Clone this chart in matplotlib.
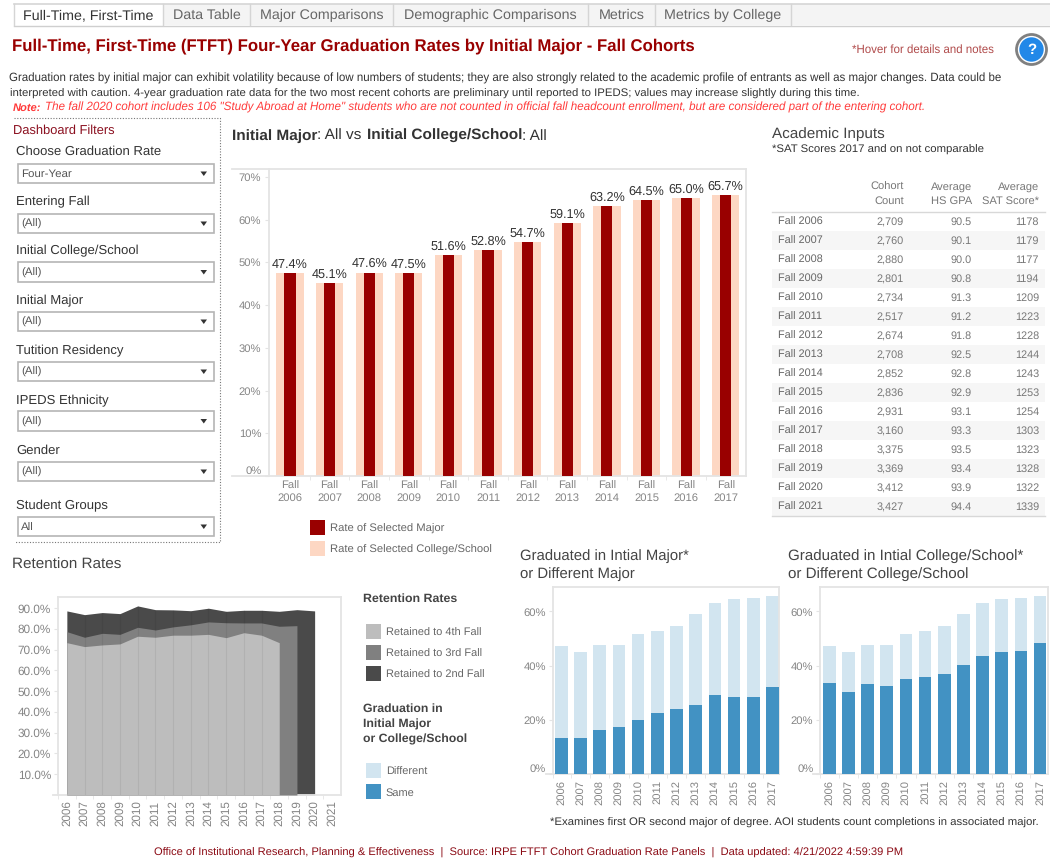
import matplotlib
matplotlib.use("Agg")
import matplotlib.pyplot as plt
from matplotlib.patches import Rectangle, Circle, Polygon

plt.rcParams['font.family'] = ['Liberation Sans', 'DejaVu Sans']
plt.rcParams['text.hinting'] = 'no_hinting'
plt.rcParams['text.hinting_factor'] = 8

W, H = 1050, 868
PX = 0.72

# ---------- data ----------
cohorts = ['2006','2007','2008','2009','2010','2011','2012','2013','2014','2015','2016','2017']
major_rate = [47.4,45.1,47.6,47.5,51.6,52.8,54.7,59.1,63.2,64.5,65.0,65.7]
college_rate = [47.4,45.1,47.6,47.5,51.6,52.8,54.7,59.1,63.2,64.5,65.0,65.7]
same_major = [13.4,13.4,16.1,17.2,19.9,22.6,23.9,25.5,29.2,28.5,28.5,32.0]
same_college = [33.5,30.4,33.1,32.6,34.9,35.8,36.9,40.3,43.4,45.0,45.5,48.2]

ret_years = [2006,2007,2008,2009,2010,2011,2012,2013,2014,2015,2016,2017,2018,2019,2020,2021]
ret_2nd = [88.7,86.9,87.9,87.4,91.1,89.3,89.2,88.8,90.0,88.5,89.0,89.0,88.5,89.3,88.7]
ret_3rd = [78.7,76.0,77.9,77.4,80.8,79.5,81.0,82.0,83.4,83.0,82.9,82.9,81.3,81.6]
ret_4th = [73.4,71.5,72.3,72.8,76.5,76.0,77.0,77.0,77.4,75.8,78.2,77.0,73.4]

table_rows = ['Fall 2006','Fall 2007','Fall 2008','Fall 2009','Fall 2010','Fall 2011','Fall 2012','Fall 2013',
              'Fall 2014','Fall 2015','Fall 2016','Fall 2017','Fall 2018','Fall 2019','Fall 2020','Fall 2021']
cohort_count = ['2,709','2,760','2,880','2,801','2,734','2,517','2,674','2,708','2,852','2,836','2,931','3,160',
                '3,375','3,369','3,412','3,427']
hs_gpa = ['90.5','90.1','90.0','90.8','91.3','91.2','91.8','92.5','92.8','92.9','93.1','93.3','93.5','93.4','93.9','94.4']
sat = ['1178','1179','1177','1194','1209','1223','1228','1244','1243','1253','1254','1303','1323','1328','1322','1339']

tabs = ['Full-Time, First-Time','Data Table','Major Comparisons','Demographic Comparisons','Metrics','Metrics by College']
filter_labels = ['Choose Graduation Rate','Entering Fall','Initial College/School','Initial Major',
                 'Tutition Residency','IPEDS Ethnicity','Gender','Student Groups']
filter_values = ['Four-Year','(All)','(All)','(All)','(All)','(All)','(All)','All']

# ---------- colours ----------
DARKRED = '#990000'
PEACH = '#fdd7c3'
BLUE = '#4292c3'
LBLUE = '#d2e5f0'
G4, G3, G2 = '#bdbdbd', '#808080', '#4a4a4a'
FRAME = '#e4e4e4'
TICKC = '#858585'
TITLEC = '#333333'

fig = plt.figure(figsize=(W/100, H/100), dpi=100, facecolor='white')
bg = fig.add_axes([0, 0, 1, 1])
bg.set_xlim(0, W); bg.set_ylim(H, 0); bg.axis('off')


def T(x, y, s, px=11, color='#333333', weight='normal', ha='left', style='normal', **kw):
    return bg.text(x, y+0.8, s, fontsize=px*PX, color=color, fontweight=weight, ha=ha, va='center',
                   fontstyle=style, **kw)


def rect(x0, y0, x1, y1, fc, ec='none', lw=0.0, z=1):
    bg.add_patch(Rectangle((x0, y0), x1-x0, y1-y0, facecolor=fc, edgecolor=ec, linewidth=lw, zorder=z))


def axpx(x0, y0, x1, y1):
    a = fig.add_axes([x0/W, 1-y1/H, (x1-x0)/W, (y1-y0)/H])
    a.patch.set_alpha(0)
    for s in a.spines.values():
        s.set_color(FRAME); s.set_linewidth(1.3)
    return a


def rich(x, y, parts, px, color):
    r = fig.canvas.get_renderer()
    for s, w in parts:
        T(x, y, s, px=px, color=color, weight=w)
        adv = T(0, -50, s.replace(' ', '.'), px=px, weight=w)
        x += adv.get_window_extent(r).width
        adv.remove()


# ---------- tabs ----------
rect(14, 4, 1050, 25, '#f4f4f4', z=0)
bg.plot([14, 1050], [4, 4], color='#d5d5d5', lw=1.2)
bg.plot([14, 1050], [25.5, 25.5], color='#cfcfcf', lw=1.0)
tab_edges = [14, 163, 250, 393, 588, 655, 791]
rect(14, 4, 163, 26, 'white', z=1)
for i, name in enumerate(tabs):
    bg.plot([tab_edges[i+1]]*2, [4, 25], color='#d5d5d5', lw=1, zorder=2)
    T((tab_edges[i]+tab_edges[i+1])/2, 14.5, name, px=14.3, color='#333333' if i == 0 else '#666666', ha='center', zorder=3)
bg.plot([14, 14], [4, 25], color='#d5d5d5', lw=1, zorder=2)

# ---------- header ----------
T(12.5, 45, 'Full-Time, First-Time (FTFT) Four-Year Graduation Rates by Initial Major - Fall Cohorts',
  px=16.7, color='#990000', weight='bold')
T(852, 49, '*Hover for details and notes', px=11.56, color='#b04a4a')
bg.add_patch(Circle((1031.5, 49.5), 15, facecolor='white', edgecolor='#808080', linewidth=2))
bg.add_patch(Circle((1031.5, 49.5), 12.2, facecolor='#2288e8', edgecolor='none'))
T(1031.5, 49.5, '?', px=15, color='white', weight='bold', ha='center')

clip = Rectangle((12, 60), 1030, 60, transform=bg.transData)
t1 = T(9, 78, 'Graduation rates by initial major can exhibit volatility because of low numbers of students; they are also '
       'strongly related to the academic profile of entrants as well as major changes. Data could be', px=11.55, color='#333333')
t2 = T(9.5, 93, 'interpreted with caution. 4-year graduation rate data for the two most recent cohorts are preliminary '
       'until reported to IPEDS; values may increase slightly during this time.', px=11.41, color='#333333')
t1.set_clip_path(clip); t2.set_clip_path(clip)
T(12.5, 107, 'Note:', px=11.1, color='#ff3b3b', weight='bold', style='italic')
T(45, 107, 'The fall 2020 cohort includes 106 "Study Abroad at Home" students who are not counted in official fall '
  'headcount enrollment, but are considered part of the entering cohort.', px=11.66, color='#ff3b3b', style='italic')

# ---------- filters ----------
bg.plot([14, 220, 220, 14], [118, 118, 542, 542], color='#777777', lw=0.8, ls=(0, (1, 1.5)))
T(13, 130, 'Dashboard Filters', px=12.9, color='#8b1020')
label_y = [151, 201, 250, 300, 350, 400, 450, 505]
box_y = [163.5, 213.5, 262, 311.5, 361.5, 411, 461.5, 516.5]
for lab, val, ly, by in zip(filter_labels, filter_values, label_y, box_y):
    T(16, ly, lab, px=13.1, color='#333333')
    rect(17.5, by, 214, by+19.5, 'white', ec='#b5b5b5', lw=1.2)
    T(21, by+10, val, px=11.5, color='#555555')
    bg.add_patch(Polygon([(200.5, by+8), (207, by+8), (203.8, by+12.5)], facecolor='#333333', edgecolor='none'))

# ---------- main chart ----------
rich(232, 135, [('Initial Major', 'bold'), (': All vs ', 'normal'), ('Initial College/School', 'bold'), (': All', 'normal')],
     15.44, TITLEC)
ax = axpx(269, 168.7, 745.5, 476)
x = list(range(len(cohorts)))
ax.bar(x, college_rate, width=0.69, color=PEACH, zorder=2)
ax.bar(x, major_rate, width=0.28, color=DARKRED, zorder=3)
ax.set_xlim(-0.53, 11.5)
ax.set_ylim(0, 71.9)
for xi, v in zip(x, major_rate):
    ax.annotate(f'{v:.1f}%', (xi, v), xytext=(0, 1.8), textcoords='offset points', ha='center', va='bottom',
                fontsize=12.6*PX, color='#333333', zorder=5)
ax.set_yticks(range(0, 71, 10))
ax.set_yticklabels([f'{v}%' for v in range(0, 71, 10)])
ax.set_xticks(x)
ax.set_xticklabels([f'Fall\n{c}' for c in cohorts])
ax.set_xticks([i-0.5 for i in x[1:]], minor=True)
ax.tick_params(axis='x', which='major', length=0, pad=3.5, labelsize=11.2*PX, labelcolor=TICKC)
ax.tick_params(axis='x', which='minor', length=3, color=FRAME)
ax.tick_params(axis='y', length=3, color=FRAME, pad=2.5, labelsize=11.3*PX, labelcolor=TICKC)
ax.get_yticklabels()[0].set_va('bottom')
bg.plot([232, 269], [476, 476], color=FRAME, lw=1.3)
bg.plot([232, 269], [168.7, 168.7], color=FRAME, lw=1.3)
rect(310, 520, 325, 535, DARKRED)
rect(310, 541, 325, 556, PEACH)
T(330, 528, 'Rate of Selected Major', px=11.29, color='#666666')
T(330, 549, 'Rate of Selected College/School', px=11.29, color='#666666')

# ---------- academic inputs ----------
T(772, 133, 'Academic Inputs', px=15.3, color='#444444')
T(772, 149, '*SAT Scores 2017 and on not comparable', px=11.38, color='#333333')
for xr, a, b in [(904, 'Cohort', 'Count'), (972, 'Average', 'HS GPA'), (1039, 'Average', 'SAT Score*')]:
    T(xr, 186.5, a, px=11.1, color='#777777', ha='right')
    T(xr, 200, b, px=11.1, color='#777777', ha='right')
bg.plot([772, 1045], [212, 212], color='#d8d8d8', lw=1)
bg.plot([772, 1045], [516, 516], color='#d8d8d8', lw=1)
row_y = 221
for i, (r, c, g, s) in enumerate(zip(table_rows, cohort_count, hs_gpa, sat)):
    yy = row_y + 19*i
    if i % 2 == 1:
        rect(772, yy-9.5, 1045, yy+9.5, '#f6f6f6', z=0)
    T(778, yy, r, px=10.9, color='#666666')
    T(904, yy+0.5, c, px=10.9, color='#777777', ha='right')
    T(972, yy+0.5, g, px=10.9, color='#777777', ha='right')
    T(1039, yy+0.5, s, px=10.9, color='#777777', ha='right')

# ---------- retention ----------
T(12, 564, 'Retention Rates', px=15.3, color='#444444')
ar = axpx(58, 597, 341, 795)
ar.fill_between(ret_years[:len(ret_2nd)], 0, ret_2nd, color=G2, lw=0, zorder=2)
ar.fill_between(ret_years[:len(ret_3rd)], 0, ret_3rd, color=G3, lw=0, zorder=3)
ar.fill_between(ret_years[:len(ret_4th)], 0, ret_4th, color=G4, lw=0, zorder=4)
ar.vlines(ret_years[1:len(ret_4th)-1], 0, ret_2nd[1:len(ret_4th)-1], color='black', alpha=0.06, lw=0.8, zorder=5)
ar.set_xlim(2005.51, 2021.49)
ar.set_ylim(0, 95.4)
ar.set_yticks(range(10, 91, 10))
ar.set_yticklabels([f'{v}.0%' for v in range(10, 91, 10)])
ar.set_xticks(ret_years)
ar.set_xticklabels([str(y) for y in ret_years], rotation=90)
ar.set_xticks([y-0.5 for y in ret_years], minor=True)
ar.tick_params(axis='x', which='major', length=0, pad=4, labelsize=11.6*PX, labelcolor=TICKC)
ar.tick_params(axis='x', which='minor', length=3, color=FRAME)
ar.tick_params(axis='y', length=3, color=FRAME, pad=2, labelsize=11.8*PX, labelcolor=TICKC)
bg.plot([53, 58], [795, 795], color=FRAME, lw=1.3)

T(363, 598, 'Retention Rates', px=12.4, color='#444444', weight='bold')
for yy, col, lab in [(624, G4, 'Retained to 4th Fall'), (645, G3, 'Retained to 3rd Fall'), (666, G2, 'Retained to 2nd Fall')]:
    rect(366, yy, 380.5, yy+15, col)
    T(386, yy+8, lab, px=11.03, color='#666666')
for yy, s in [(708, 'Graduation in'), (723.5, 'Initial Major'), (739, 'or College/School')]:
    T(363, yy, s, px=12.2, color='#444444', weight='bold')
for yy, col, lab in [(763, LBLUE, 'Different'), (784, BLUE, 'Same')]:
    rect(366, yy, 380.5, yy+15, col)
    T(386, yy+8, lab, px=11.03, color='#666666')

# ---------- graduation panels ----------
def grad_panel(x0, x1, lo, hi, same):
    a = axpx(x0, 587.3, x1, 774)
    a.bar(x, major_rate, width=0.66, color=LBLUE, zorder=2)
    a.bar(x, same, width=0.66, color=BLUE, zorder=3)
    a.set_xlim(lo, hi)
    a.set_ylim(0, 68.9)
    a.set_yticks([0, 20, 40, 60])
    a.set_yticklabels(['0%', '20%', '40%', '60%'])
    a.set_xticks(x)
    a.set_xticklabels(cohorts, rotation=90)
    a.set_xticks([i-0.5 for i in x[1:]] + [lo], minor=True)
    a.tick_params(axis='x', which='major', length=0, pad=4, labelsize=11.2*PX, labelcolor=TICKC)
    a.tick_params(axis='x', which='minor', length=3, color=FRAME)
    a.tick_params(axis='y', length=3, color=FRAME, pad=2, labelsize=11.3*PX, labelcolor=TICKC)
    a.get_yticklabels()[0].set_va('bottom')
    bg.plot([x0-7, x0], [774, 774], color=FRAME, lw=1.3)

grad_panel(552.7, 779, -0.45, 11.34, same_major)
grad_panel(820.3, 1047.5, -0.47, 11.39, same_college)
T(520.5, 555.5, 'Graduated in Intial Major*', px=14.9, color='#444444')
T(520.5, 573.5, 'or Different Major', px=14.9, color='#444444')
T(788, 555.5, 'Graduated in Intial College/School*', px=15.1, color='#444444')
T(788, 573.5, 'or Different College/School', px=15.1, color='#444444')

T(550.5, 822.5, '*Examines first OR second major of degree. AOI students count completions in associated major.',
  px=11.39, color='#333333')
T(154, 852.5, 'Office of Institutional Research, Planning & Effectiveness  |  Source: IRPE FTFT Cohort Graduation Rate Panels  |  '
  'Data updated: 4/21/2022 4:59:39 PM', px=11.19, color='#8b0a14')

fig.savefig('out.png', dpi=100)
